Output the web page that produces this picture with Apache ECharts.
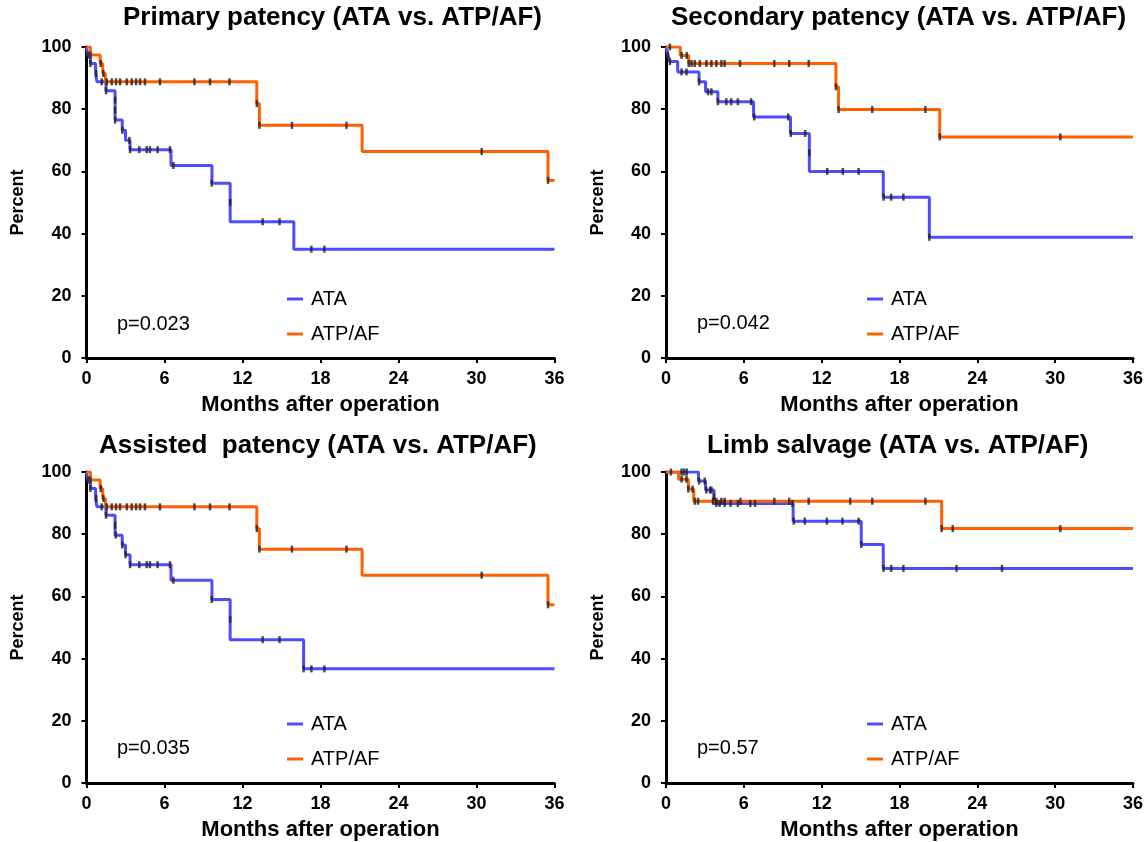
<!DOCTYPE html>
<html>
<head>
<meta charset="utf-8">
<script src="https://cdn.jsdelivr.net/npm/echarts@6/dist/echarts.min.js"></script>
<style>html,body{margin:0;padding:0;background:#fff;}#c{width:1146px;height:842px;}</style>
</head>
<body>
<div id="c"></div>
<script>
// ---------- data (months, percent) ----------
const panelTitles = ['Primary patency (ATA vs. ATP/AF)', 'Secondary patency (ATA vs. ATP/AF)', 'Assisted  patency (ATA vs. ATP/AF)', 'Limb salvage (ATA vs. ATP/AF)'];
const pValues = ['p=0.023', 'p=0.042', 'p=0.035', 'p=0.57'];
const seriesNames = ['ATA', 'ATP/AF'];
const xTickValues = [0, 6, 12, 18, 24, 30, 36];
const yTickValues = [0, 20, 40, 60, 80, 100];

// Primary patency
const p1Ata = [[0,100],[0.1,97.4],[0.3,94.7],[0.7,91.5],[0.8,88.8],[1.5,85.9],[2.2,76.5],[2.75,73.2],[3.0,70.0],[3.35,67.0],[6.5,61.9],[9.65,56.2],[11.05,43.8],[15.95,35.0],[36,35.0]];
const p1AtaCens = [[0.1,97.4],[0.3,94.7],[0.75,91.5],[1.5,85.9],[2.2,82.9],[2.2,79.7],[2.2,76.5],[2.75,73.2],[3.3,70.0],[3.35,67.0],[4.06,67.0],[4.63,67.0],[4.88,67.0],[5.47,67.0],[6.42,67.0],[6.68,61.9],[9.63,56.2],[11.05,50.0],[13.55,43.8],[14.85,43.8],[17.3,35.0],[18.3,35.0]];
const p1Af = [[0,100],[0.3,97.4],[1.05,94.7],[1.25,91.5],[1.45,88.8],[13.1,81.8],[13.3,74.8],[21.2,66.4],[35.5,57.1],[36,57.1]];
const p1AfCens = [[0.3,97.4],[1.1,94.7],[1.3,91.5],[1.17,88.8],[1.56,88.8],[1.94,88.8],[2.27,88.8],[2.58,88.8],[3.1,88.8],[3.48,88.8],[3.81,88.8],[4.12,88.8],[4.5,88.8],[5.65,88.8],[8.3,88.8],[9.5,88.8],[11.0,88.8],[13.1,81.8],[13.3,74.8],[15.8,74.8],[20.0,74.8],[30.4,66.4],[35.5,57.1]];

// Secondary patency
const p2Ata = [[0,100],[0.15,97.4],[0.3,95.3],[0.9,92.0],[2.55,88.8],[3.05,85.6],[4.0,82.4],[6.75,77.5],[9.6,72.2],[11.05,60.0],[16.75,51.7],[20.3,38.8],[36,38.8]];
const p2AtaCens = [[0.15,97.4],[0.3,95.3],[1.2,92.0],[1.58,92.0],[2.55,88.8],[3.24,85.6],[3.5,85.6],[4.0,82.4],[4.65,82.4],[5.03,82.4],[5.54,82.4],[6.56,82.4],[6.8,77.5],[9.42,77.5],[9.62,72.2],[10.73,72.2],[11.05,66.0],[12.43,60.0],[13.63,60.0],[14.85,60.0],[16.77,51.7],[17.36,51.7],[18.3,51.7],[20.3,38.8]];
const p2Af = [[0,100],[1.1,97.3],[1.75,94.7],[13.1,87.2],[13.3,79.9],[21.1,71.1],[36,71.1]];
const p2AfCens = [[0.3,100],[1.2,97.3],[1.6,97.3],[1.75,94.7],[1.97,94.7],[2.22,94.7],[2.6,94.7],[3.12,94.7],[3.5,94.7],[3.88,94.7],[4.27,94.7],[4.52,94.7],[5.7,94.7],[8.35,94.7],[9.5,94.7],[11.0,94.7],[13.1,87.2],[13.3,79.9],[15.9,79.9],[20.0,79.9],[21.1,71.1],[30.4,71.1]];

// Assisted patency
const p3Ata = [[0,100],[0.1,97.4],[0.3,94.7],[0.7,91.5],[0.8,88.8],[1.5,86.1],[2.2,79.7],[2.75,76.5],[3.0,73.4],[3.35,70.2],[6.5,65.2],[9.65,59.0],[11.05,46.1],[16.7,36.7],[36,36.7]];
const p3AtaCens = [[0.1,97.4],[0.3,94.7],[0.75,91.5],[1.5,86.1],[2.2,82.9],[2.25,79.7],[2.75,76.5],[3.0,73.4],[3.35,70.2],[4.06,70.2],[4.63,70.2],[4.88,70.2],[5.47,70.2],[6.42,70.2],[6.68,65.2],[9.63,59.0],[11.05,52.6],[13.55,46.1],[14.85,46.1],[16.7,36.7],[17.3,36.7],[18.3,36.7]];
const p3Af = [[0,100],[0.3,97.4],[1.05,94.7],[1.25,91.5],[1.45,88.8],[13.1,81.8],[13.3,75.2],[21.2,66.8],[35.5,57.3],[36,57.3]];
const p3AfCens = [[0.3,97.4],[1.1,94.7],[1.3,91.5],[1.17,88.8],[1.56,88.8],[1.94,88.8],[2.27,88.8],[2.58,88.8],[3.1,88.8],[3.48,88.8],[3.81,88.8],[4.12,88.8],[4.5,88.8],[5.65,88.8],[8.3,88.8],[9.5,88.8],[11.0,88.8],[13.1,81.8],[13.3,75.2],[15.8,75.2],[20.0,75.2],[30.4,66.8],[35.5,57.3]];

// Limb salvage
const p4Ata = [[0,100],[2.5,97.1],[3.05,94.2],[3.7,89.9],[9.8,84.2],[15.05,76.7],[16.75,69.0],[36,69.0]];
const p4AtaCens = [[1.2,100],[1.4,100],[1.6,100],[2.55,97.1],[2.99,97.1],[3.1,94.2],[3.4,94.2],[3.5,94.2],[3.7,92.0],[3.88,89.9],[4.13,89.9],[4.52,89.9],[4.98,89.9],[5.54,89.9],[6.5,89.9],[6.87,89.9],[9.75,89.9],[9.85,84.2],[10.7,84.2],[12.4,84.2],[13.6,84.2],[14.85,84.2],[15.06,76.7],[16.77,69.0],[17.36,69.0],[18.3,69.0],[22.4,69.0],[25.9,69.0]];
const p4Af = [[0,100],[0.97,97.7],[1.72,94.5],[2.14,90.6],[21.25,81.8],[36,81.8]];
const p4AfCens = [[0.38,100],[1.2,97.7],[1.58,97.7],[1.72,94.5],[2.05,94.5],[2.22,90.6],[2.47,90.6],[3.62,90.6],[3.88,90.6],[4.27,90.6],[4.52,90.6],[5.74,90.6],[8.35,90.6],[9.5,90.6],[11.0,90.6],[14.2,90.6],[15.9,90.6],[20.0,90.6],[21.25,81.8],[22.1,81.8],[30.4,81.8]];

const panels = [
  {ata: p1Ata, ataC: p1AtaCens, af: p1Af, afC: p1AfCens},
  {ata: p2Ata, ataC: p2AtaCens, af: p2Af, afC: p2AfCens},
  {ata: p3Ata, ataC: p3AtaCens, af: p3Af, afC: p3AfCens},
  {ata: p4Ata, ataC: p4AtaCens, af: p4Af, afC: p4AfCens}
];

// ---------- layout / style ----------
const FONT = '"Liberation Sans", Arial, sans-serif';
const BLUE = '#4d4dff', ORANGE = '#ff6000';
const grids = [
  {left: 86.5, top: 47, width: 468, height: 311},
  {left: 666, top: 47, width: 470, height: 311},
  {left: 86.5, top: 472, width: 468, height: 311},
  {left: 666, top: 472, width: 470, height: 311}
];
const titlePos = [{left: 118, top: 0}, {left: 666, top: 0}, {left: 94, top: 428}, {left: 702, top: 428}];
const legendPos = [{left: 287, top: 288}, {left: 867, top: 288}, {left: 287, top: 713}, {left: 867, top: 713}];
const pPos = [{left: 117, top: 314}, {left: 697, top: 313}, {left: 117, top: 738}, {left: 697, top: 738}];

const axisLine = {show: true, onZero: false, lineStyle: {color: '#000', width: 3}};
const axisTick = {show: true, inside: false, length: 5, lineStyle: {color: '#000', width: 2}};
const axisLabel = {color: '#000', fontSize: 18, fontWeight: 'bold', fontFamily: FONT};

const xAxis = [], yAxis = [], series = [], title = [], legend = [], graphic = [];
panels.forEach((p, i) => {
  xAxis.push({type: 'value', gridIndex: i, min: xTickValues[0], max: xTickValues[xTickValues.length-1], interval: 6,
    axisLine, axisTick, axisLabel: Object.assign({margin: 12}, axisLabel), splitLine: {show: false},
    name: 'Months after operation', nameLocation: 'middle', nameGap: 36,
    nameTextStyle: {color: '#000', fontSize: 22, fontWeight: 'bold', fontFamily: FONT}});
  yAxis.push({type: 'value', gridIndex: i, min: yTickValues[0], max: yTickValues[yTickValues.length-1], interval: 20,
    axisLine, axisTick, axisLabel: Object.assign({margin: 15}, axisLabel), splitLine: {show: false},
    name: 'Percent', nameLocation: 'middle', nameGap: 59,
    nameTextStyle: {color: '#000', fontSize: 18, fontWeight: 'bold', fontFamily: FONT}});
  series.push({name: seriesNames[0], type: 'line', step: 'end', xAxisIndex: i, yAxisIndex: i, data: p.ata,
    showSymbol: false, lineStyle: {color: BLUE, width: 3}, itemStyle: {color: BLUE}, z: 2, animation: false});
  series.push({name: seriesNames[1], type: 'line', step: 'end', xAxisIndex: i, yAxisIndex: i, data: p.af,
    showSymbol: false, lineStyle: {color: ORANGE, width: 3}, itemStyle: {color: ORANGE}, z: 3, animation: false});
  series.push({name: 'ATA censored', type: 'scatter', xAxisIndex: i, yAxisIndex: i, data: p.ataC,
    symbol: 'rect', symbolSize: [2.5, 7], itemStyle: {color: '#222'}, z: 5, animation: false, silent: true});
  series.push({name: 'ATP/AF censored', type: 'scatter', xAxisIndex: i, yAxisIndex: i, data: p.afC,
    symbol: 'rect', symbolSize: [2.5, 7], itemStyle: {color: '#222'}, z: 5, animation: false, silent: true});
  title.push({text: panelTitles[i], left: titlePos[i].left, top: titlePos[i].top,
    textStyle: {color: '#000', fontSize: 26, fontWeight: 'bold', fontFamily: FONT}});
  legend.push({data: seriesNames, orient: 'vertical', left: legendPos[i].left, top: legendPos[i].top, padding: 0,
    icon: 'rect', itemWidth: 16, itemHeight: 3, itemGap: 13, selectedMode: false,
    textStyle: {color: '#000', fontSize: 20, lineHeight: 22, fontFamily: FONT, padding: [0, 0, 0, 3]}});
  graphic.push({type: 'text', left: pPos[i].left, top: pPos[i].top,
    style: {text: pValues[i], fill: '#000', fontSize: 20, fontFamily: FONT}});
});

const chart = echarts.init(document.getElementById('c'), null, {renderer: 'canvas'});
chart.setOption({animation: false, backgroundColor: '#fff', title, legend, grid: grids, xAxis, yAxis, series, graphic});
</script>
</body>
</html>
